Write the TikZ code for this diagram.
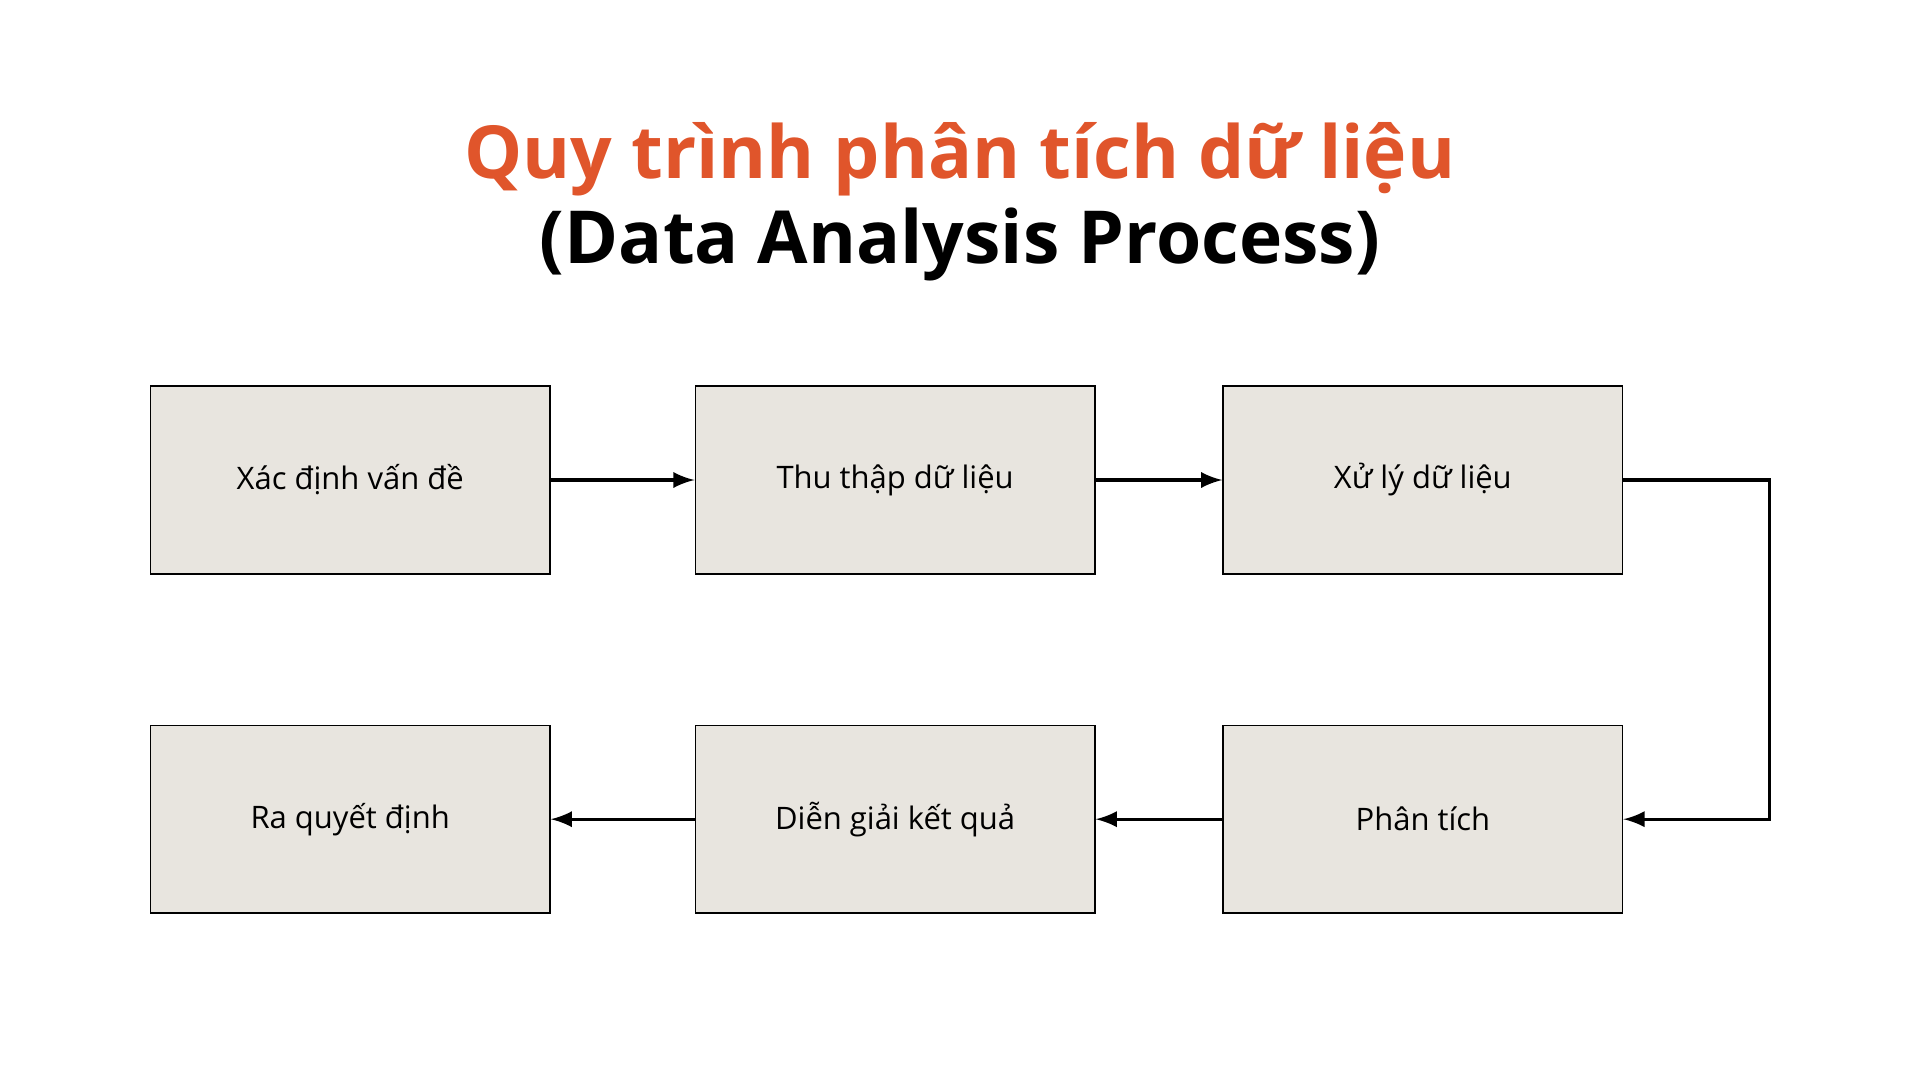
\documentclass[tikz,border=0pt]{standalone}
\usepackage{fontspec}
\setmainfont{Open Sans}
\newfontfamily\titlefont{Open Sans}
\usetikzlibrary{arrows, calc}
\definecolor{boxfill}{HTML}{E8E5DF}
\definecolor{titleorange}{HTML}{E0552B}
\tikzset{->, >=latex, font=\small}
\tikzset{stage/.style={shape=rectangle, draw, thin, fill=boxfill, minimum width=32.6mm,
    minimum height=15.3mm, font=\fontsize{7.2}{9}\selectfont}}
\begin{document}
\begin{tikzpicture}[x=0.1mm, y=-0.1mm, line width=0.25mm]
      \useasboundingbox (0,0) rectangle (1568,882);
      \node[font=\titlefont\bfseries\fontsize{17}{20}\selectfont, text=titleorange] (title)
      at (784,130) {Quy trình phân tích dữ liệu};
      \node[font=\titlefont\bfseries\fontsize{17}{20}\selectfont] (subtitle)
      at (784,200) {(Data Analysis Process)};
      \node[stage] (s1) at (286,392) {Xác định vấn đề};
      \node[stage] (s2) at (731,392) {Thu thập dữ liệu};
      \node[stage] (s3) at (1162,392) {Xử lý dữ liệu};
      \node[stage] (s4) at (1162,669) {Phân tích};
      \node[stage] (s5) at (731,669) {Diễn giải kết quả};
      \node[stage] (s6) at (286,669) {Ra quyết định};
      \draw (s1) -- (s2);
      \draw (s2) -- (s3);
      \draw (s3.east) -- ++(119,0) |- (s4.east);
      \draw (s4) -- (s5);
      \draw (s5) -- (s6);
    \end{tikzpicture}
\end{document}
